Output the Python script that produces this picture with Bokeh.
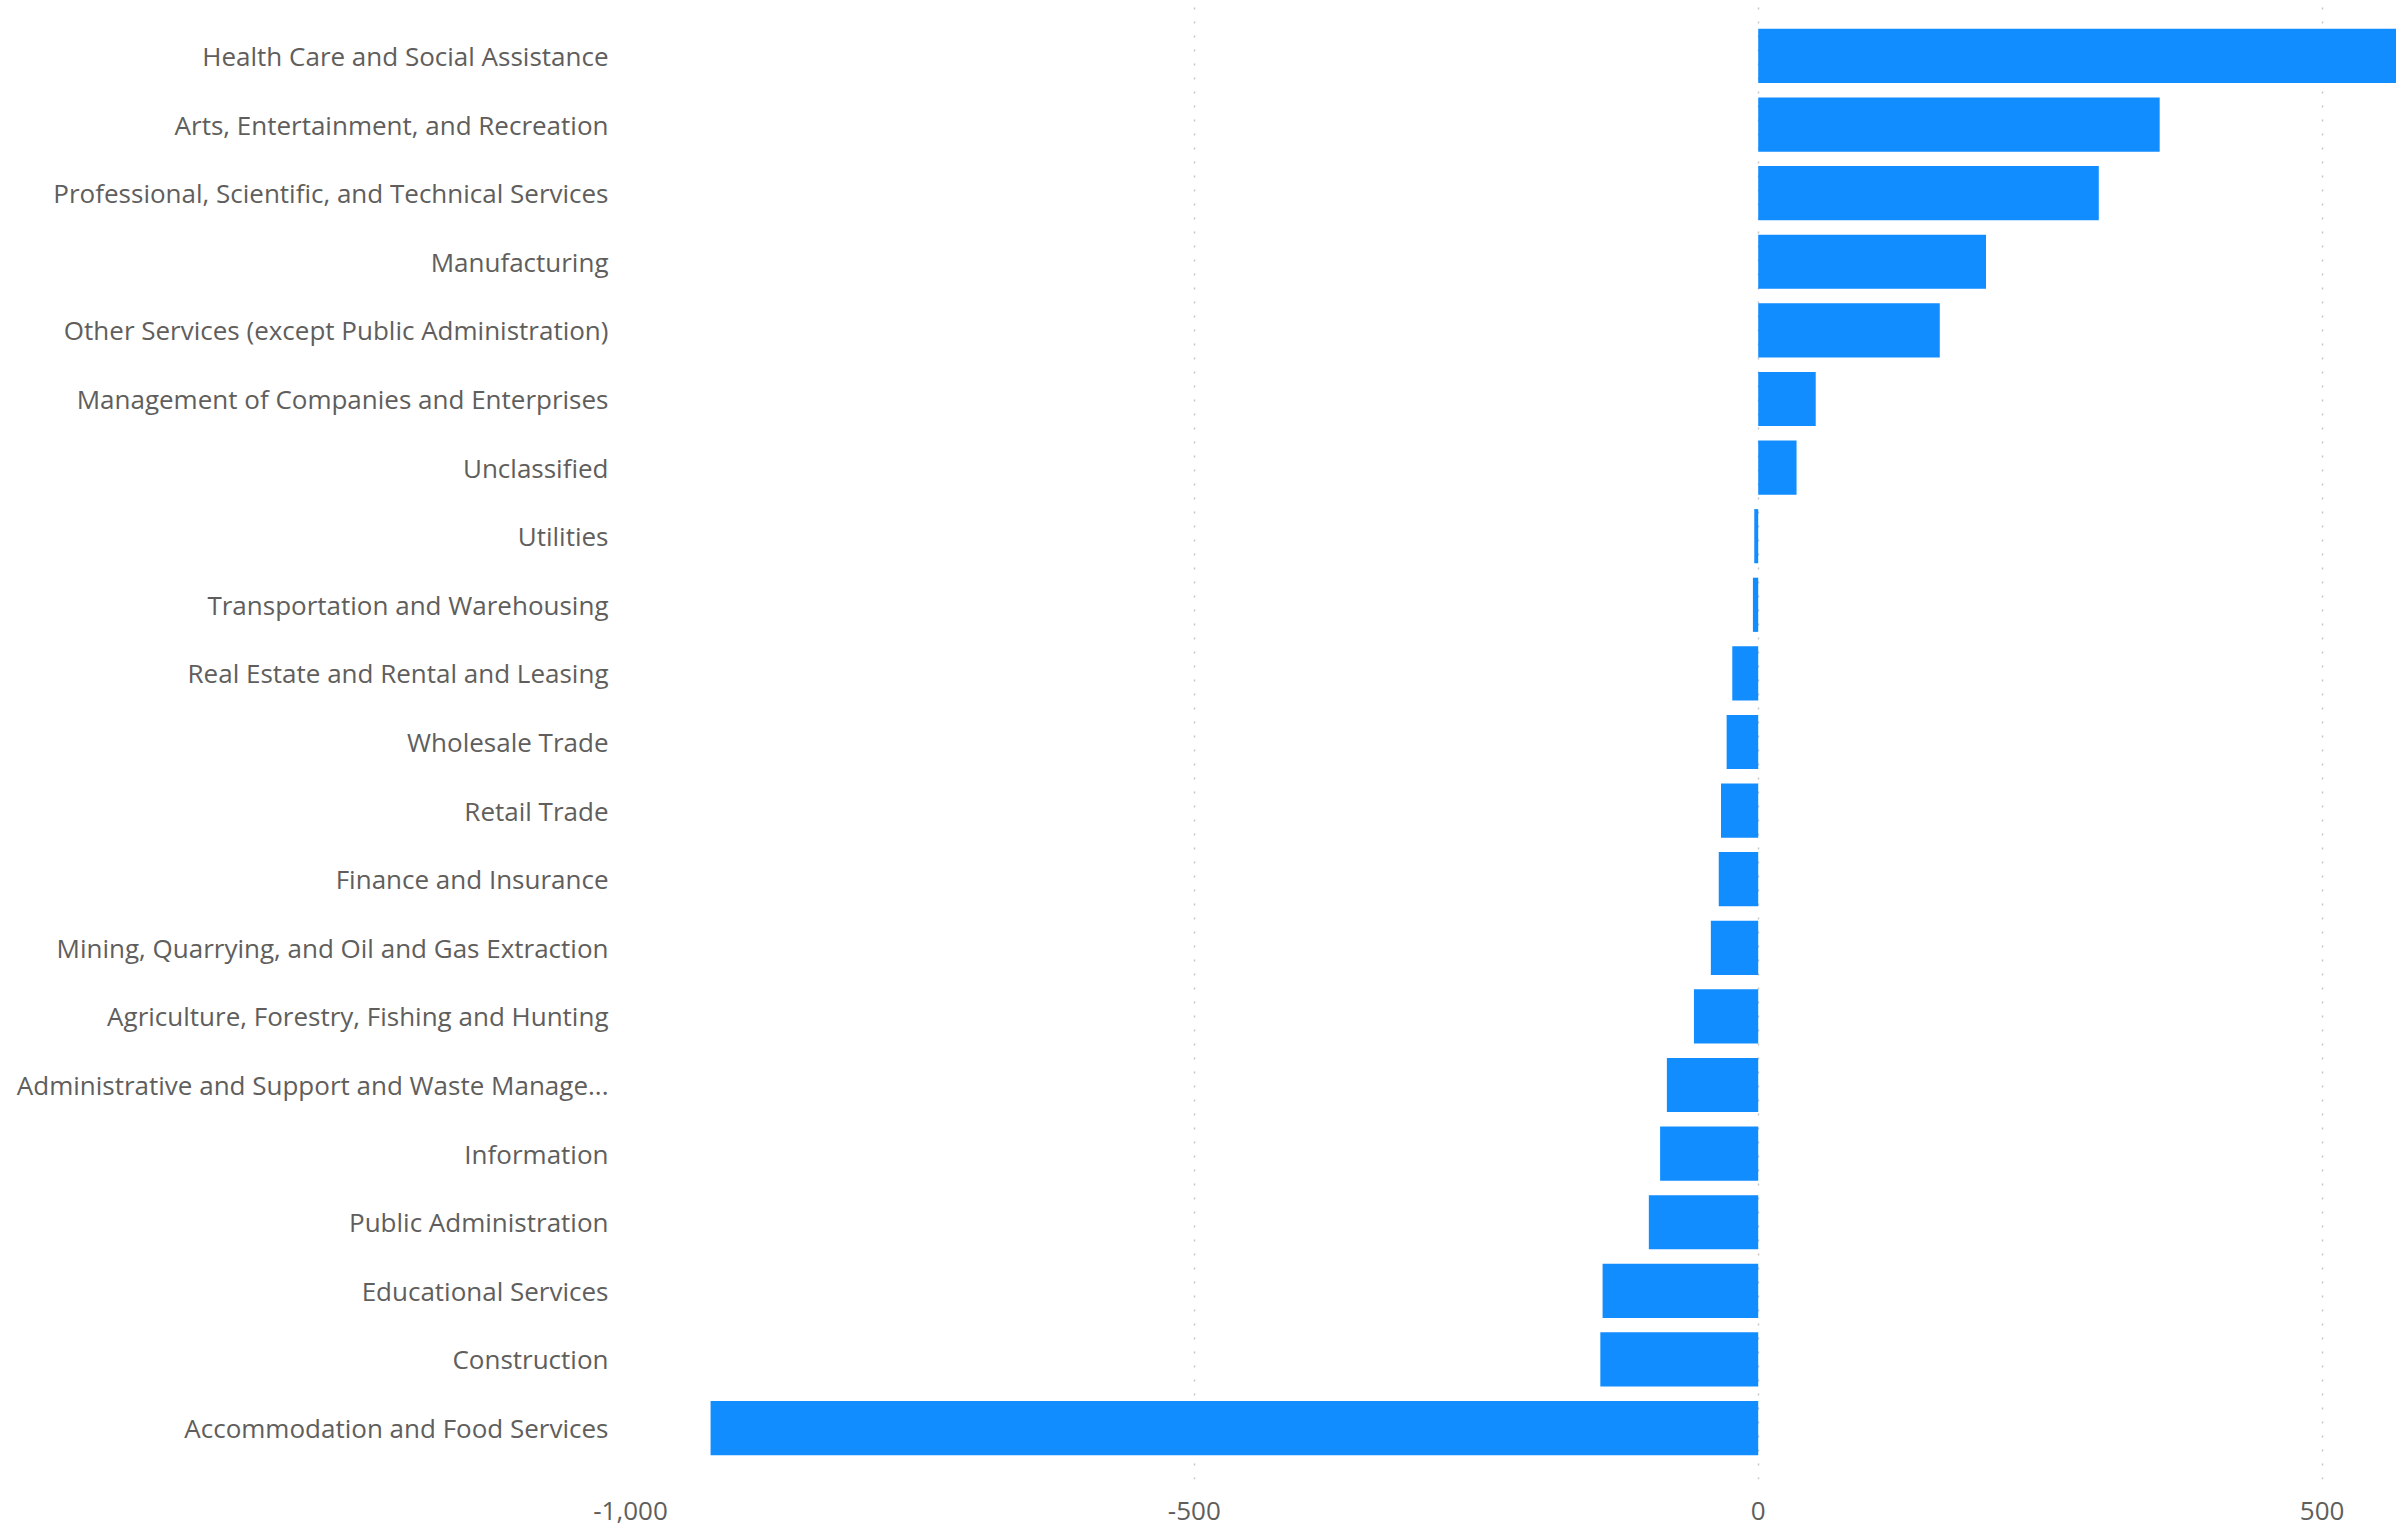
from bokeh.plotting import figure
from bokeh.models import FactorRange, Range1d, FixedTicker, NumeralTickFormatter, ColumnDataSource
from bokeh.embed import file_html
from bokeh.resources import INLINE

industries = [
    "Health Care and Social Assistance",
    "Arts, Entertainment, and Recreation",
    "Professional, Scientific, and Technical Services",
    "Manufacturing",
    "Other Services (except Public Administration)",
    "Management of Companies and Enterprises",
    "Unclassified",
    "Utilities",
    "Transportation and Warehousing",
    "Real Estate and Rental and Leasing",
    "Wholesale Trade",
    "Retail Trade",
    "Finance and Insurance",
    "Mining, Quarrying, and Oil and Gas Extraction",
    "Agriculture, Forestry, Fishing and Hunting",
    "Administrative and Support and Waste Manage...",
    "Information",
    "Public Administration",
    "Educational Services",
    "Construction",
    "Accommodation and Food Services",
]
change = [566, 356, 302, 202, 161, 51, 34, -3.5, -4.7, -23, -28, -33, -35, -42,
          -57, -81, -87, -97, -138, -140, -929]
x_ticks = [-1000, -500, 0, 500]

FONT = "Open Sans"
LABEL_COLOR = "#605E5C"

src = ColumnDataSource(dict(cat=industries, val=change))

y_range = FactorRange(factors=list(reversed(industries)),
                      range_padding=0.25, range_padding_units="absolute")

p = figure(width=2396, height=1527, y_range=y_range,
           x_range=Range1d(-1000, 566), title=None,
           output_backend="svg", toolbar_location=None,
           min_border_left=630, min_border_right=0,
           min_border_top=4, min_border_bottom=48)

p.hbar(y="cat", right="val", left=0, height=0.79, source=src,
       fill_color="#118DFF", line_color=None)

p.outline_line_color = None
p.background_fill_color = "white"
p.border_fill_color = "white"

p.xgrid.ticker = FixedTicker(ticks=x_ticks)
p.xgrid.grid_line_color = "#C8C6C4"
p.xgrid.grid_line_dash = "2 12"
p.xgrid.grid_line_width = 1.5
p.ygrid.grid_line_color = None
p.xgrid.level = "underlay"

p.xaxis.ticker = FixedTicker(ticks=x_ticks)
p.xaxis.formatter = NumeralTickFormatter(format="0,0")
for ax in (p.xaxis, p.yaxis):
    ax.axis_line_color = None
    ax.major_tick_line_color = None
    ax.minor_tick_line_color = None
    ax.major_tick_out = 0
    ax.major_tick_in = 0
    ax.major_label_text_font = FONT
    ax.major_label_text_color = LABEL_COLOR
    ax.major_label_text_font_size = "26px"

p.xaxis.major_label_standoff = 22
p.yaxis.major_label_standoff = 22

open("out.html", "w").write(file_html(p, INLINE))
